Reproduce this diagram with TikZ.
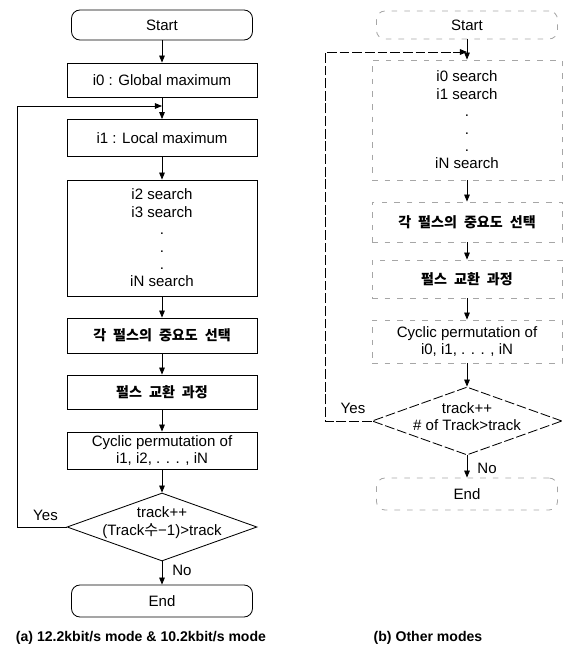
\documentclass[tikz,border=0pt]{standalone}
\usepackage{fontspec}
\setmainfont{Liberation Sans}
\newfontfamily\kr{Noto Sans CJK KR}
\usetikzlibrary{arrows.meta}
\usetikzlibrary{shapes.geometric}
\usetikzlibrary{calc}

\begin{document}
\begin{tikzpicture}[
    font=\fontsize{10.7}{12.4}\selectfont,
    line width=0.6pt,
    arr/.style={-{Triangle[length=5pt,width=4pt]}},
    proc/.style={draw, rectangle, minimum width=4.75cm, inner sep=0pt, align=center},
    term/.style={draw, rectangle, rounded corners=6pt, minimum width=4.525cm, minimum height=0.75cm},
    decide/.style={draw, diamond, minimum width=4.75cm, minimum height=1.7cm, inner sep=0pt},
    faint/.style={draw=black!35, dash pattern=on 4pt off 5pt},
    worn/.style={dash pattern=on 7pt off 2pt},
    korean/.style={font=\kr\bfseries\fontsize{10}{12}\selectfont},
    caption/.style={font=\fontsize{10}{12}\selectfont\bfseries}
  ]
  \useasboundingbox (0,0) rectangle (14.075,-16.225);

  % (a) 12.2 / 10.2 kbit/s
  \node[term] (startL) at (4.05,-0.625) {Start};
  \node[proc, minimum height=0.85cm] (i0L) at (4.05,-2.0) {i0 : Global maximum};
  \coordinate (joinL) at (4.05,-2.65);
  \node[proc, minimum height=0.925cm] (i1L) at (4.05,-3.45) {i1 : Local maximum};
  \node[proc, minimum height=2.9cm] (srchL) at (4.05,-5.95) {i2 search\\i3 search\\.\\.\\.\\iN search};
  \node[proc, minimum height=0.875cm, korean] (impL) at (4.05,-8.3875) {각\enspace 펄스의\enspace 중요도\enspace 선택};
  \node[proc, minimum height=0.85cm, korean] (swapL) at (4.05,-9.8) {펄스\enspace 교환\enspace 과정};
  \node[proc, minimum height=0.925cm] (cycL) at (4.05,-11.2625) {Cyclic permutation of\\i1, i2, . . . , iN};
  \node[decide] (decL) at (4.05,-13.175) {};
  \node[align=center] (condL) at ([yshift=3pt]decL.center) {track++\\(Track{\kr 수}−1)>track};
  \node[term, minimum height=0.8cm] (endL) at (4.05,-15.025) {End};
  \coordinate (loopL) at (0.425,-2.65);
  \node (yesL) at (1.1375,-12.875) {Yes};
  \node (noL) at (4.55,-14.25) {No};
  \node[caption] (capL) at (3.525,-15.95) {(a) 12.2kbit/s mode \& 10.2kbit/s mode};

  \draw[arr] (startL) -- (i0L);
  \draw[arr] (i0L) -- (i1L);
  \draw[arr] (i1L) -- (srchL);
  \draw[arr] (srchL) -- (impL);
  \draw[arr] (impL) -- (swapL);
  \draw[arr] (swapL) -- (cycL);
  \draw[arr] (cycL) -- (decL);
  \draw[arr] (decL) -- (endL);
  \draw[arr] (decL.west) -- (decL.west -| loopL) -- (loopL) -- (joinL);

  % (b) other modes
  \node[term, faint, minimum height=0.7cm] (startR) at (11.675,-0.625) {Start};
  \coordinate (joinR) at (11.675,-1.3);
  \node[proc, faint, minimum height=3.0cm] (srchR) at (11.675,-3.0) {i0 search\\i1 search\\.\\.\\.\\iN search};
  \node[proc, faint, minimum height=1.0cm, korean] (impR) at (11.675,-5.55) {각\enspace 펄스의\enspace 중요도\enspace 선택};
  \node[proc, faint, minimum height=0.95cm, korean] (swapR) at (11.675,-6.975) {펄스\enspace 교환\enspace 과정};
  \node[proc, faint, minimum height=1.075cm] (cycR) at (11.675,-8.5375) {Cyclic permutation of\\i0, i1, . . . , iN};
  \node[decide, worn] (decR) at (11.675,-10.525) {};
  \node[align=center] (condR) at ([yshift=3pt]decR.center) {track++\\\# of Track>track};
  \node[term, faint, minimum height=0.8cm] (endR) at (11.675,-12.35) {End};
  \coordinate (loopR) at (8.125,-1.3);
  \node (yesR) at (8.825,-10.2) {Yes};
  \node (noR) at (12.175,-11.7) {No};
  \node[caption] (capR) at (10.7,-15.95) {(b) Other modes};

  \draw[arr] (startR) -- (srchR);
  \draw[arr] (srchR) -- (impR);
  \draw[arr] (impR) -- (swapR);
  \draw[arr] (swapR) -- (cycR);
  \draw[arr] (cycR) -- (decR);
  \draw[arr] (decR) -- (endR);
  \draw[arr, worn] (decR.west) -- (decR.west -| loopR) -- (loopR) -- (joinR);
\end{tikzpicture}
\end{document}
